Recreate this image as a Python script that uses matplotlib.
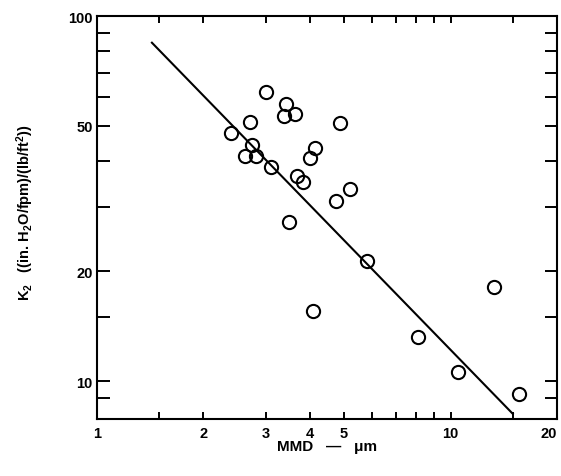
import matplotlib
matplotlib.use("Agg")
import matplotlib.pyplot as plt
from matplotlib.ticker import FixedLocator, FixedFormatter, NullLocator

plt.rcParams['font.family'] = ['Liberation Sans', 'DejaVu Sans']
plt.rcParams['mathtext.fontset'] = 'custom'
plt.rcParams['mathtext.rm'] = 'Liberation Sans:bold'
plt.rcParams['mathtext.it'] = 'Liberation Sans:bold'
plt.rcParams['mathtext.bf'] = 'Liberation Sans:bold'

mmd = [3.0, 3.43, 3.39, 3.62, 2.70, 4.86, 2.39, 2.74, 2.62, 2.82, 3.10, 4.13,
       4.0, 3.68, 3.83, 5.18, 4.75, 3.50, 5.80, 4.08, 13.3, 8.1, 10.5, 15.6]
k2 = [62, 57.3, 53.2, 53.8, 51.4, 50.8, 47.8, 44.4, 41.3, 41.3, 38.5, 43.5,
      40.8, 36.5, 35.1, 33.7, 31.2, 27.3, 21.3, 15.6, 18.1, 13.2, 10.6, 9.2]

# fitted line end points
fit_x = [1.43, 15.0]
fit_y = [84.5, 8.14]

x_ticks = [1, 1.5, 2, 3, 4, 5, 6, 7, 8, 9, 10, 15, 20]
x_labels = ['1', '', '2', '3', '4', '5', '', '', '', '', '10', '', '20']
y_ticks = [9, 10, 15, 20, 30, 40, 50, 60, 70, 80, 90, 100]
y_labels = ['', '10', '', '20', '', '', '50', '', '', '', '', '100']

fig = plt.figure(figsize=(5.61, 4.77), dpi=100)
ax = fig.add_axes([97 / 561, 1 - 420 / 477, 460 / 561, 403 / 477])

ax.plot(fit_x, fit_y, color='black', lw=1.5)
ax.plot(mmd, k2, 'o', ms=9.5, mfc='none', mec='black', mew=1.5)

ax.set_xscale('log')
ax.set_yscale('log')
ax.set_xlim(1, 20)
ax.set_ylim(7.88, 100)

ax.xaxis.set_major_locator(FixedLocator(x_ticks))
ax.xaxis.set_major_formatter(FixedFormatter(x_labels))
ax.xaxis.set_minor_locator(NullLocator())
ax.yaxis.set_major_locator(FixedLocator(y_ticks))
ax.yaxis.set_major_formatter(FixedFormatter(y_labels))
ax.yaxis.set_minor_locator(NullLocator())

ax.tick_params(axis='x', which='both', direction='in', top=True, bottom=True,
               length=5, width=1.4, pad=5, labelsize=10.5)
ax.tick_params(axis='y', which='both', direction='in', left=True, right=True,
               length=9, width=1.4, pad=3, labelsize=10.5)
for lab in ax.get_xticklabels() + ax.get_yticklabels():
    lab.set_fontweight('bold')
# last x label sits on the page edge
ax.get_xticklabels()[-1].set_ha('right')

for sp in ax.spines.values():
    sp.set_linewidth(1.5)

ax.set_xlabel('MMD   —   μm', fontsize=11, fontweight='bold', va='center')
ax.xaxis.set_label_coords(0.5, -(447 - 420) / 403)
ax.set_ylabel('K$_2$   ((in. H$_2$O/fpm)/(lb/ft$^2$))', fontsize=10.5,
              fontweight='bold', va='center')
ax.yaxis.set_label_coords((25 - 97) / 460, (420 - 213) / 403)

fig.savefig('out.png', dpi=100)
